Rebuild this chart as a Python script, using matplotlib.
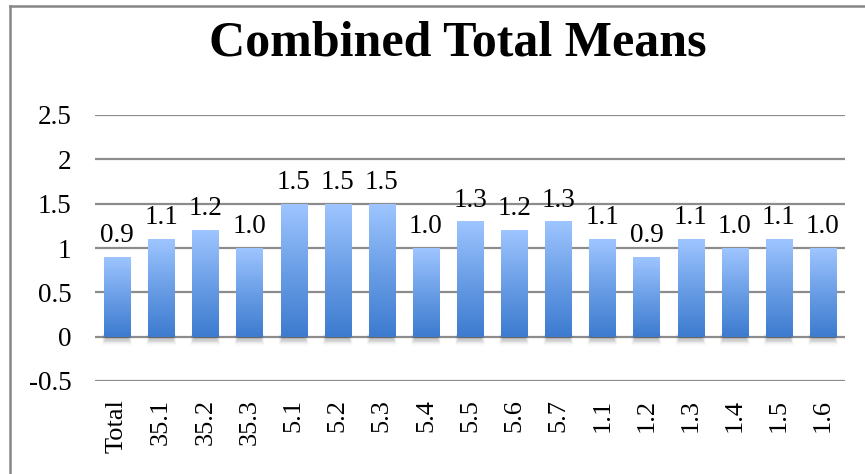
import matplotlib
matplotlib.use("Agg")
import matplotlib.pyplot as plt
import numpy as np
from matplotlib.colors import LinearSegmentedColormap
from matplotlib.lines import Line2D

categories = ["Total", "35.1", "35.2", "35.3", "5.1", "5.2", "5.3", "5.4", "5.5",
              "5.6", "5.7", "1.1", "1.2", "1.3", "1.4", "1.5", "1.6"]
values = [0.9, 1.1, 1.2, 1.0, 1.5, 1.5, 1.5, 1.0, 1.3, 1.2, 1.3, 1.1, 0.9, 1.1, 1.0, 1.1, 1.0]
yticks = [-0.5, 0, 0.5, 1, 1.5, 2, 2.5]
ytick_labels = ["-0.5", "0", "0.5", "1", "1.5", "2", "2.5"]

plt.rcParams['font.family'] = ['Liberation Serif', 'DejaVu Serif']

W, H = 865, 474
fig = plt.figure(figsize=(W / 100, H / 100), dpi=100)
ax = fig.add_axes([95 / W, 1 - 381 / H, 750 / W, (381 - 115) / H])

ax.set_xlim(-0.5, len(categories) - 0.5)
ax.set_ylim(-0.5, 2.5)
for s in ax.spines.values():
    s.set_visible(False)
ax.set_yticks(yticks)
ax.set_yticklabels(ytick_labels, fontsize=19.5)
ax.tick_params(axis='both', length=0)
ax.tick_params(axis='y', pad=17)
ax.set_xticks(range(len(categories)))
ax.set_xticklabels(categories, rotation=90, fontsize=19)
ax.tick_params(axis='x', pad=13)
for t in yticks:
    ax.axhline(t, color='#8c8c8c', lw=1.6, zorder=1)

cmap = LinearSegmentedColormap.from_list('g', ['#3d7bcf', '#6a9ee6', '#9ec5ff'])
grad = np.linspace(0, 1, 256).reshape(-1, 1)
bw = 0.59
bars = ax.bar(range(len(values)), values, width=bw, color='none', zorder=3)
for i, (b, v) in enumerate(zip(bars, values)):
    # soft shadow under each bar
    for k, a in enumerate([0.07, 0.06, 0.05, 0.04, 0.03, 0.02]):
        sh = plt.Rectangle((i - bw / 2 - 0.015 * k + 0.03, -0.03 - 0.014 * k),
                           bw + 0.03 * k - 0.06, 0.06 + 0.014 * k,
                           color='#000000', alpha=a, lw=0, zorder=2)
        ax.add_patch(sh)
    im = ax.imshow(grad, extent=(i - bw / 2, i + bw / 2, 0, v), origin='lower',
                   cmap=cmap, aspect='auto', zorder=3)
    im.set_clip_path(b)
    ax.text(i, v + 0.1, f"{v:.1f}", ha='center', va='bottom', fontsize=19.5, zorder=4)
ax.set_xlim(-0.5, len(categories) - 0.5)
ax.set_ylim(-0.5, 2.5)

fig.text(458 / W, 1 - 43 / H, "Combined Total Means", ha='center', va='center',
         fontsize=36, fontweight='bold')

fig.add_artist(Line2D([10 / W, 10 / W], [0, 1 - 6 / H], transform=fig.transFigure,
                      color='#868686', lw=1.8))
fig.add_artist(Line2D([10 / W, 1], [1 - 6 / H, 1 - 6 / H], transform=fig.transFigure,
                      color='#868686', lw=1.8))

fig.savefig("out.png", dpi=100)
